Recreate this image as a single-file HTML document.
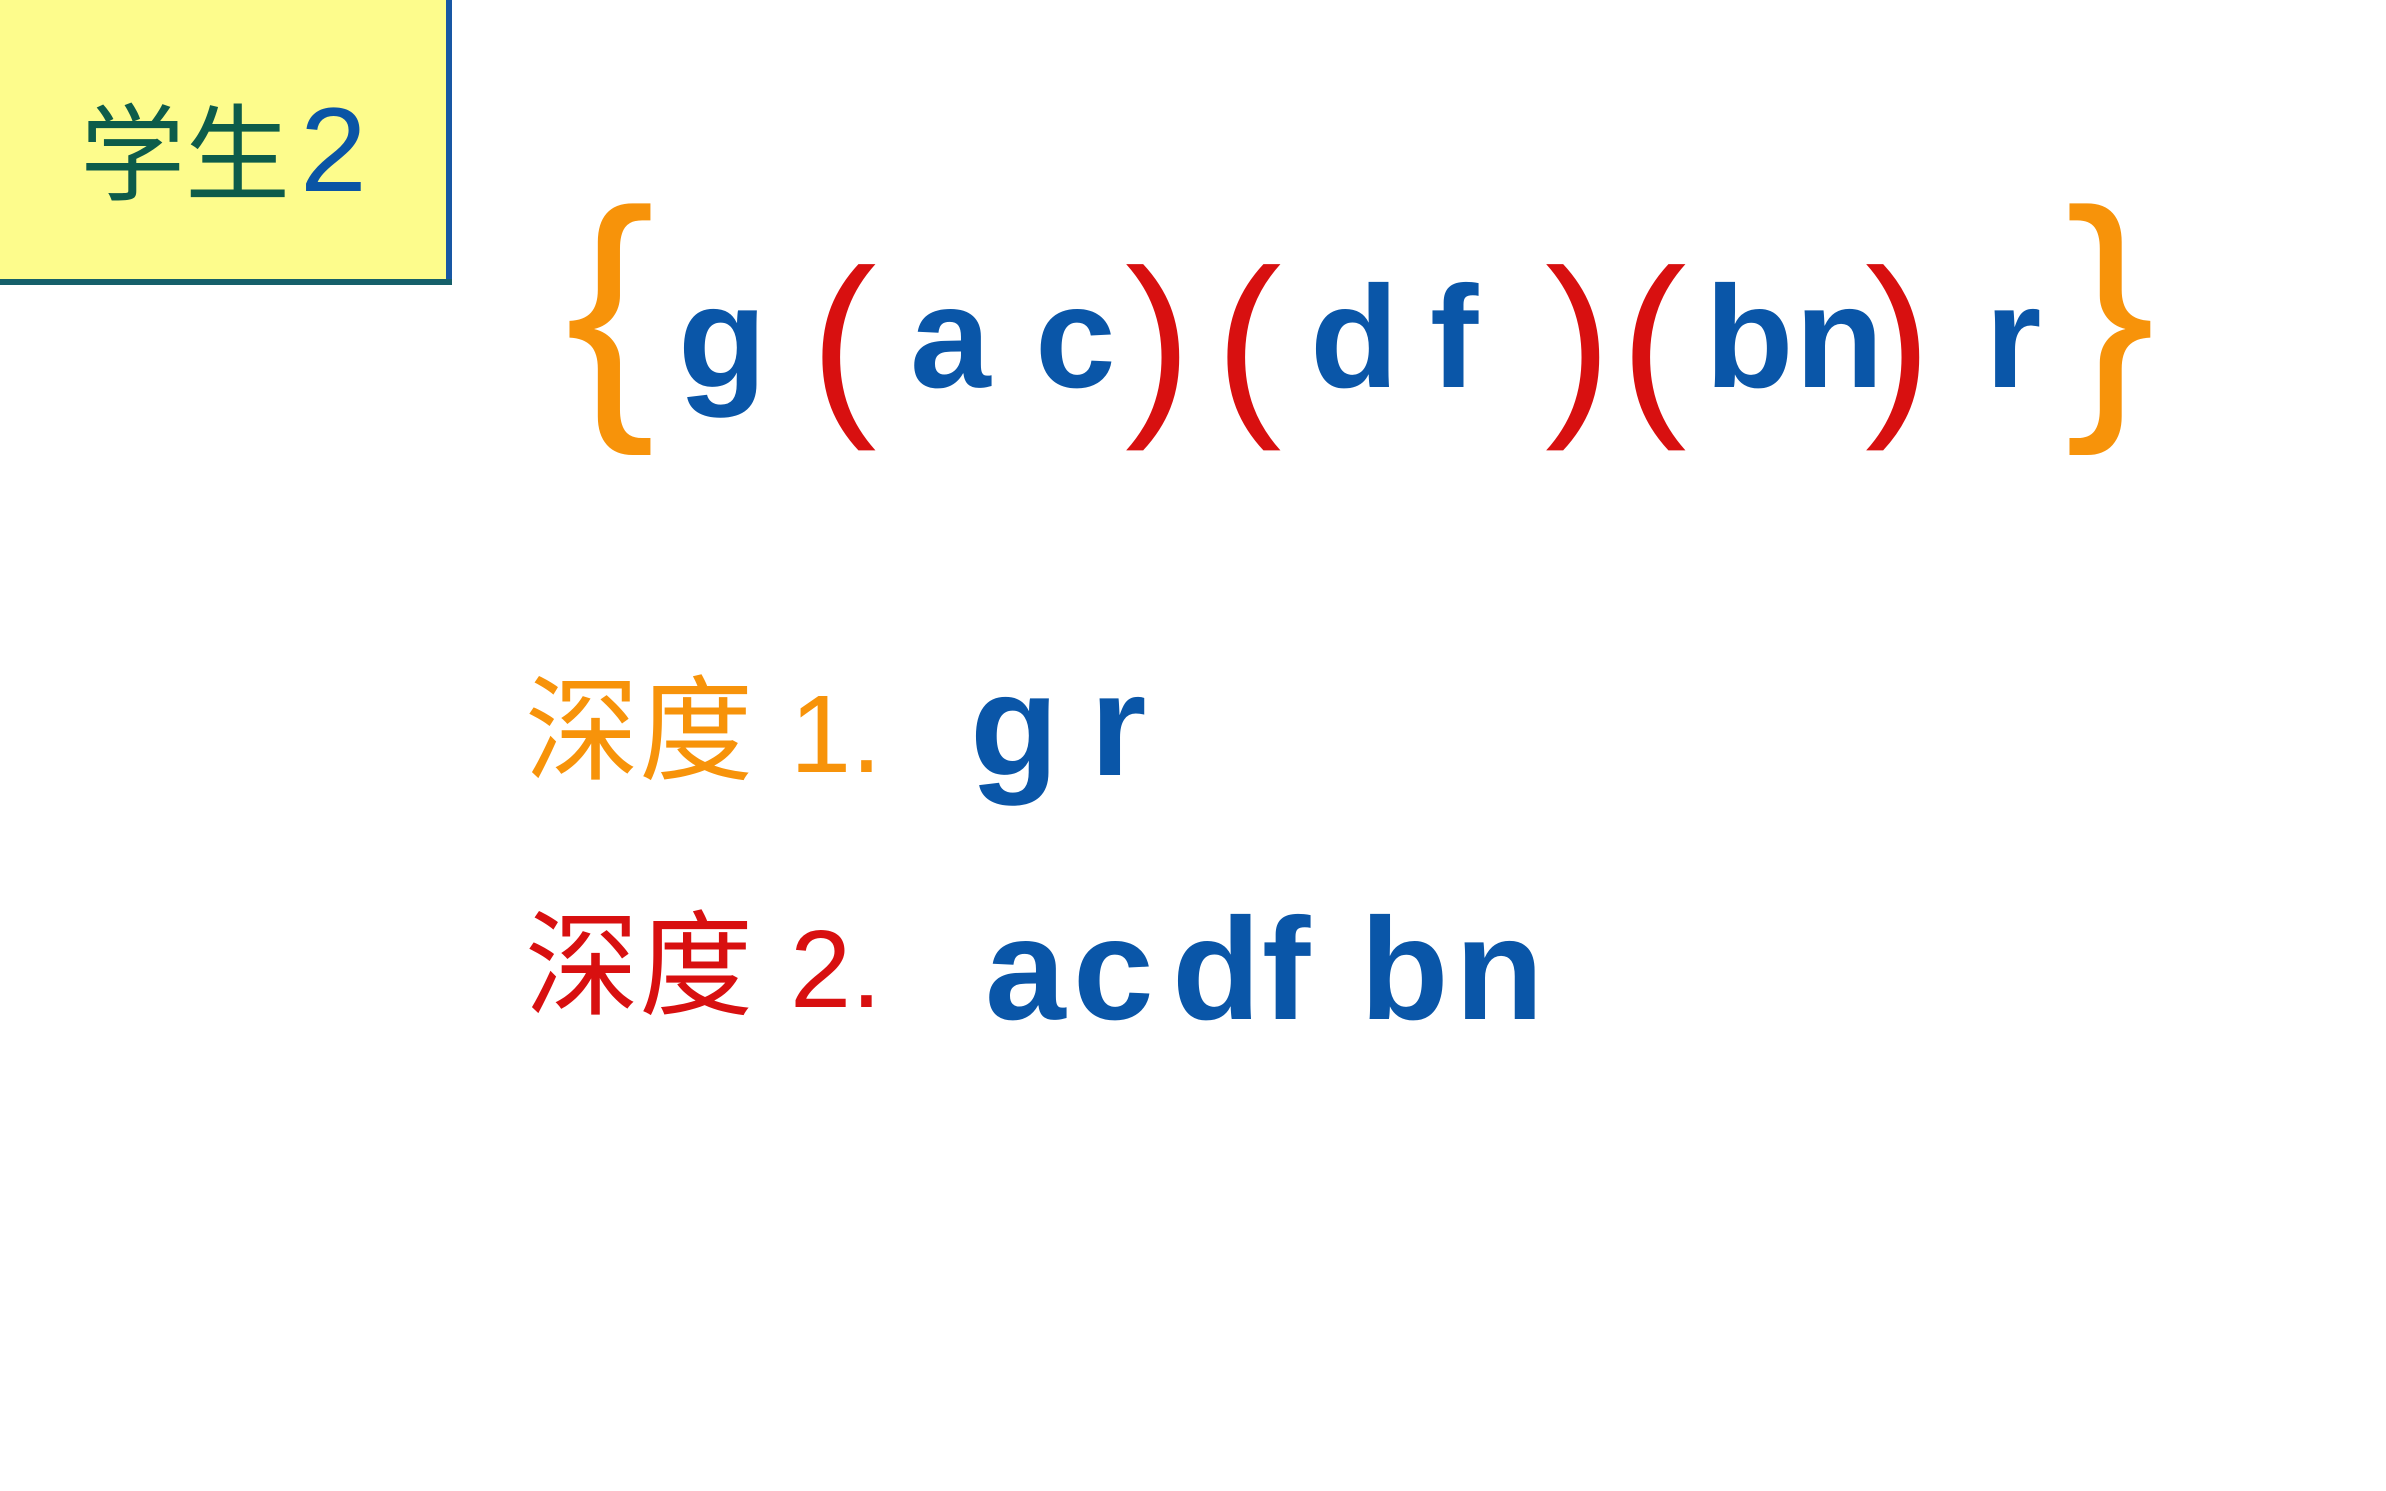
<!DOCTYPE html>
<html><head><meta charset="utf-8">
<style>
html,body{margin:0;padding:0;background:#fff;}
body{width:2386px;height:1491px;position:relative;overflow:hidden;font-family:"Liberation Sans","Noto Sans CJK SC",sans-serif;}
.c{position:absolute;line-height:1;white-space:nowrap;font-weight:bold;}
.b{color:#0a56a8}.r{color:#d81010}.o{color:#f7930a}
.L{font-size:145px;}
.P{font-size:200px;font-weight:normal;}
.B{font-size:270px;font-weight:normal;}
.cjk{font-family:"Noto Sans CJK SC","WenQuanYi Zen Hei",sans-serif;font-weight:normal;}
</style></head><body>
<div style="position:absolute;left:0;top:0;width:446px;height:279px;background:#fdfc8c;"></div>
<div style="position:absolute;left:446px;top:0;width:6px;height:285px;background:#1857a4;"></div>
<div style="position:absolute;left:0;top:279px;width:452px;height:6px;background:#15606a;"></div>
<div class="c cjk" style="left:80px;top:95px;font-size:105px;color:#0d5c4a;">学</div>
<div class="c cjk" style="left:185px;top:95px;font-size:105px;color:#0d5c4a;">生</div>
<div class="c" style="left:300px;top:90px;font-size:120px;color:#0a55a5;font-weight:normal;">2</div>

<div class="c o B" style="left:565px;top:172px;">{</div>
<div class="c b L" style="left:678px;top:265px;">g</div>
<div class="c r P" style="left:810px;top:241px;">(</div>
<div class="c b L" style="left:910px;top:265px;">a</div>
<div class="c b L" style="left:1035px;top:265px;">c</div>
<div class="c r P" style="left:1125px;top:241px;">)</div>
<div class="c r P" style="left:1215px;top:241px;">(</div>
<div class="c b L" style="left:1310px;top:265px;">d</div>
<div class="c b L" style="left:1430px;top:265px;">f</div>
<div class="c r P" style="left:1545px;top:241px;">)</div>
<div class="c r P" style="left:1620px;top:241px;">(</div>
<div class="c b L" style="left:1705px;top:265px;">b</div>
<div class="c b L" style="left:1795px;top:265px;">n</div>
<div class="c r P" style="left:1865px;top:241px;">)</div>
<div class="c b L" style="left:1985px;top:265px;">r</div>
<div class="c o B" style="left:2065px;top:172px;">}</div>

<div class="c o cjk" style="left:525px;top:665px;font-size:114px;">深度</div>
<div class="c o" style="left:790px;top:680px;font-size:110px;font-weight:normal;">1.</div>
<div class="c b L" style="left:970px;top:653px;">g</div>
<div class="c b L" style="left:1090px;top:653px;">r</div>

<div class="c r cjk" style="left:525px;top:900px;font-size:114px;">深度</div>
<div class="c r" style="left:790px;top:915px;font-size:110px;font-weight:normal;">2.</div>
<div class="c b L" style="left:985px;top:897px;">a</div>
<div class="c b L" style="left:1073px;top:897px;">c</div>
<div class="c b L" style="left:1172px;top:897px;">d</div>
<div class="c b L" style="left:1262px;top:897px;">f</div>
<div class="c b L" style="left:1360px;top:897px;">b</div>
<div class="c b L" style="left:1455px;top:897px;">n</div>
</body></html>
